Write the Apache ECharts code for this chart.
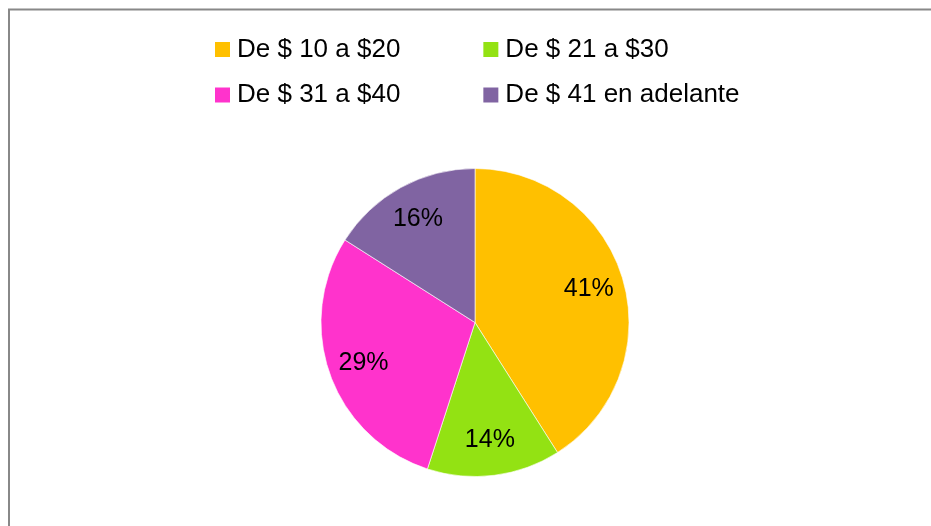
<!DOCTYPE html>
<html>
<head>
<meta charset="utf-8">
<script src="https://cdn.jsdelivr.net/npm/echarts@6/dist/echarts.min.js"></script>
<style>
  html, body { margin: 0; padding: 0; background: #fff; }
  #chart { width: 931px; height: 526px; }
</style>
</head>
<body>
<div id="chart"></div>
<script>
// rangos de precio y su porcentaje
var categories = ['De $ 10 a $20', 'De $ 21 a $30', 'De $ 31 a $40', 'De $ 41 en adelante'];
var values = [41, 14, 29, 16];
var colors = ['#FFC000', '#93E213', '#FF33CC', '#8064A2'];

var pieData = categories.map(function (name, i) {
  return { name: name, value: values[i], itemStyle: { color: colors[i] } };
});

var legendBase = {
  left: 208,
  itemGap: 81,
  icon: 'rect',
  itemWidth: 17,
  itemHeight: 17,
  selectedMode: false,
  textStyle: { fontSize: 26, color: '#000', lineHeight: 27, padding: [0, 0, 0, 1] }
};

var chart = echarts.init(document.getElementById('chart'));
chart.setOption({
  animation: false,
  textStyle: { fontFamily: '"Liberation Sans", Arial, sans-serif' },
  graphic: [
    {
      type: 'rect',
      shape: { x: 9, y: 9.5, width: 1000, height: 600 },
      style: { fill: 'none', stroke: '#888', lineWidth: 2 },
      silent: true
    }
  ],
  legend: [
    Object.assign({}, legendBase, { data: categories.slice(0, 2), top: 31 }),
    Object.assign({}, legendBase, { data: categories.slice(2, 4), top: 76.5 })
  ],
  series: [
    {
      type: 'pie',
      center: [475, 322.5],
      radius: [0, 154],
      startAngle: 90,
      clockwise: true,
      silent: true,
      label: { show: false },
      labelLine: { show: false },
      itemStyle: { borderColor: '#fff', borderWidth: 0.6 },
      emphasis: { disabled: true },
      data: pieData
    },
    {
      // solo etiquetas, un poco más afuera como en Excel
      type: 'pie',
      center: [475, 322.5],
      radius: [77, 154],
      startAngle: 90,
      clockwise: true,
      silent: true,
      itemStyle: { color: 'rgba(0,0,0,0)' },
      emphasis: { disabled: true },
      label: {
        show: true,
        position: 'inside',
        formatter: '{c}%',
        fontSize: 25,
        color: '#000'
      },
      labelLine: { show: false },
      data: categories.map(function (name, i) {
        return { name: name, value: values[i] };
      })
    }
  ]
});
</script>
</body>
</html>
